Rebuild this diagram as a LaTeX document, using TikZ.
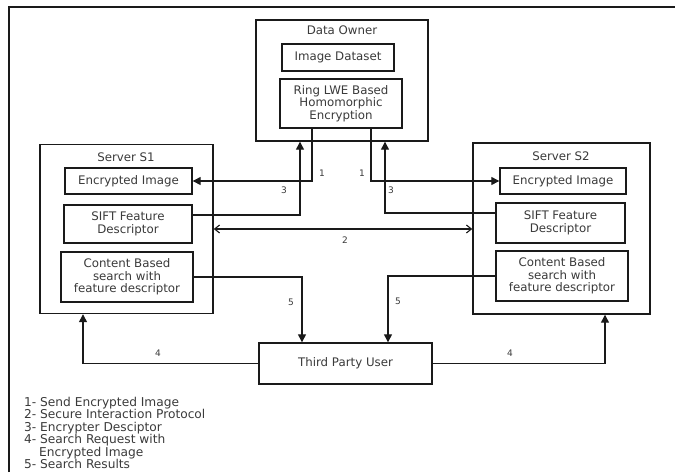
\documentclass[tikz,border=0pt]{standalone}
\usepackage{fontspec}
\setmainfont{DejaVu Sans}
\usetikzlibrary{arrows.meta}
\definecolor{ink}{HTML}{1A1A1A}
\definecolor{txt}{HTML}{3A3A3A}

\begin{document}
\begin{tikzpicture}[x=1pt,y=-1pt,font=\fontsize{11.8}{12.5}\selectfont,
 box/.style={draw=ink,line width=1.4pt,fill=white,align=center,text=txt,inner sep=1pt},
 group/.style={draw=ink,line width=1.4pt,inner sep=0pt},
 title/.style={text=txt,font=\fontsize{11.8}{12}\selectfont},
 flow/.style={-{Triangle[length=8pt,width=8pt]},line width=1.3pt,draw=ink},
 link/.style={{Straight Barb[length=5pt,width=8pt]}-{Straight Barb[length=5pt,width=8pt]},line width=1.1pt,draw=ink},
 num/.style={text=txt,font=\fontsize{9}{10}\selectfont}]
\path[use as bounding box] (0,0) rectangle (675,472);
\draw[ink,line width=1.4pt] (9,472)--(9,7)--(675,7);

% Data owner with its two blocks
\node[group,minimum width=172pt,minimum height=121pt] (owner) at (342,80.5) {};
\node[title] (ownert) at (342,30) {Data Owner};
\node[box,minimum width=112pt,minimum height=27pt] (data) at (338,57.5) {Image Dataset};
\node[box,minimum width=122pt,minimum height=49pt] (ring) at (341,103.5) {Ring LWE Based\\Homomorphic\\Encryption};

% Server S1
\node[group,minimum width=173pt,minimum height=169pt] (server1) at (126.5,229) {};
\node[title] (server1t) at (126,157) {Server S1};
\node[box,minimum width=127pt,minimum height=26pt] (enc1) at (128.5,181) {Encrypted Image};
\node[box,minimum width=128pt,minimum height=38pt] (sift1) at (128,224) {SIFT Feature\\Descriptor};
\node[box,minimum width=132pt,minimum height=50pt] (cbir1) at (127,277) {Content Based\\search with\\feature descriptor};

% Server S2
\node[group,minimum width=177pt,minimum height=171pt] (server2) at (561.5,228.5) {};
\node[title] (server2t) at (561,156) {Server S2};
\node[box,minimum width=126pt,minimum height=26pt] (enc2) at (563,181) {Encrypted Image};
\node[box,minimum width=129pt,minimum height=40pt] (sift2) at (560.5,223) {SIFT Feature\\Descriptor};
\node[box,minimum width=132pt,minimum height=50pt] (cbir2) at (562,276) {Content Based\\search with\\feature descriptor};

\node[box,minimum width=173pt,minimum height=41pt] (user) at (345.5,363.5) {Third Party User};

\draw[flow] ([xshift=-29pt]ring.south) |- (enc1.east);
\draw[flow] ([xshift=30pt]ring.south) |- (enc2.west);
\draw[flow] ([yshift=9pt]sift1.east) -| ([xshift=-42pt]owner.south);
\draw[flow] ([yshift=10pt]sift2.west) -| ([xshift=43pt]owner.south);
\draw[link] (server1.east) -- (server1.east -| server2.west);
\draw[flow] (cbir1.east) -| ([xshift=-43.5pt]user.north);
\draw[flow] (cbir2.west) -| ([xshift=42.5pt]user.north);
\draw[flow] (user.west) -| ([xshift=-43.5pt]server1.south);
\draw[flow] (user.east) -| ([xshift=43.5pt]server2.south);

\foreach \name/\x/\y/\n in {n1a/322/173/1,n1b/362/173/1,n3a/284/190/3,n3b/391/190/3,n2/345/240/2,
 n5a/291/302/5,n5b/398/301/5,n4a/158/353/4,n4b/510/353/4}
 \node[num] (\name) at (\x,\y) {\n};

\node[anchor=north west,align=left,text=txt,inner sep=0pt,font=\fontsize{12.2}{12.4}\selectfont] (legend) at (24,397)
 {1- Send Encrypted Image\\2- Secure Interaction Protocol\\3- Encrypter Desciptor\\4- Search Request with\\\hspace*{15pt}Encrypted Image\\5- Search Results};
\end{tikzpicture}
\end{document}
